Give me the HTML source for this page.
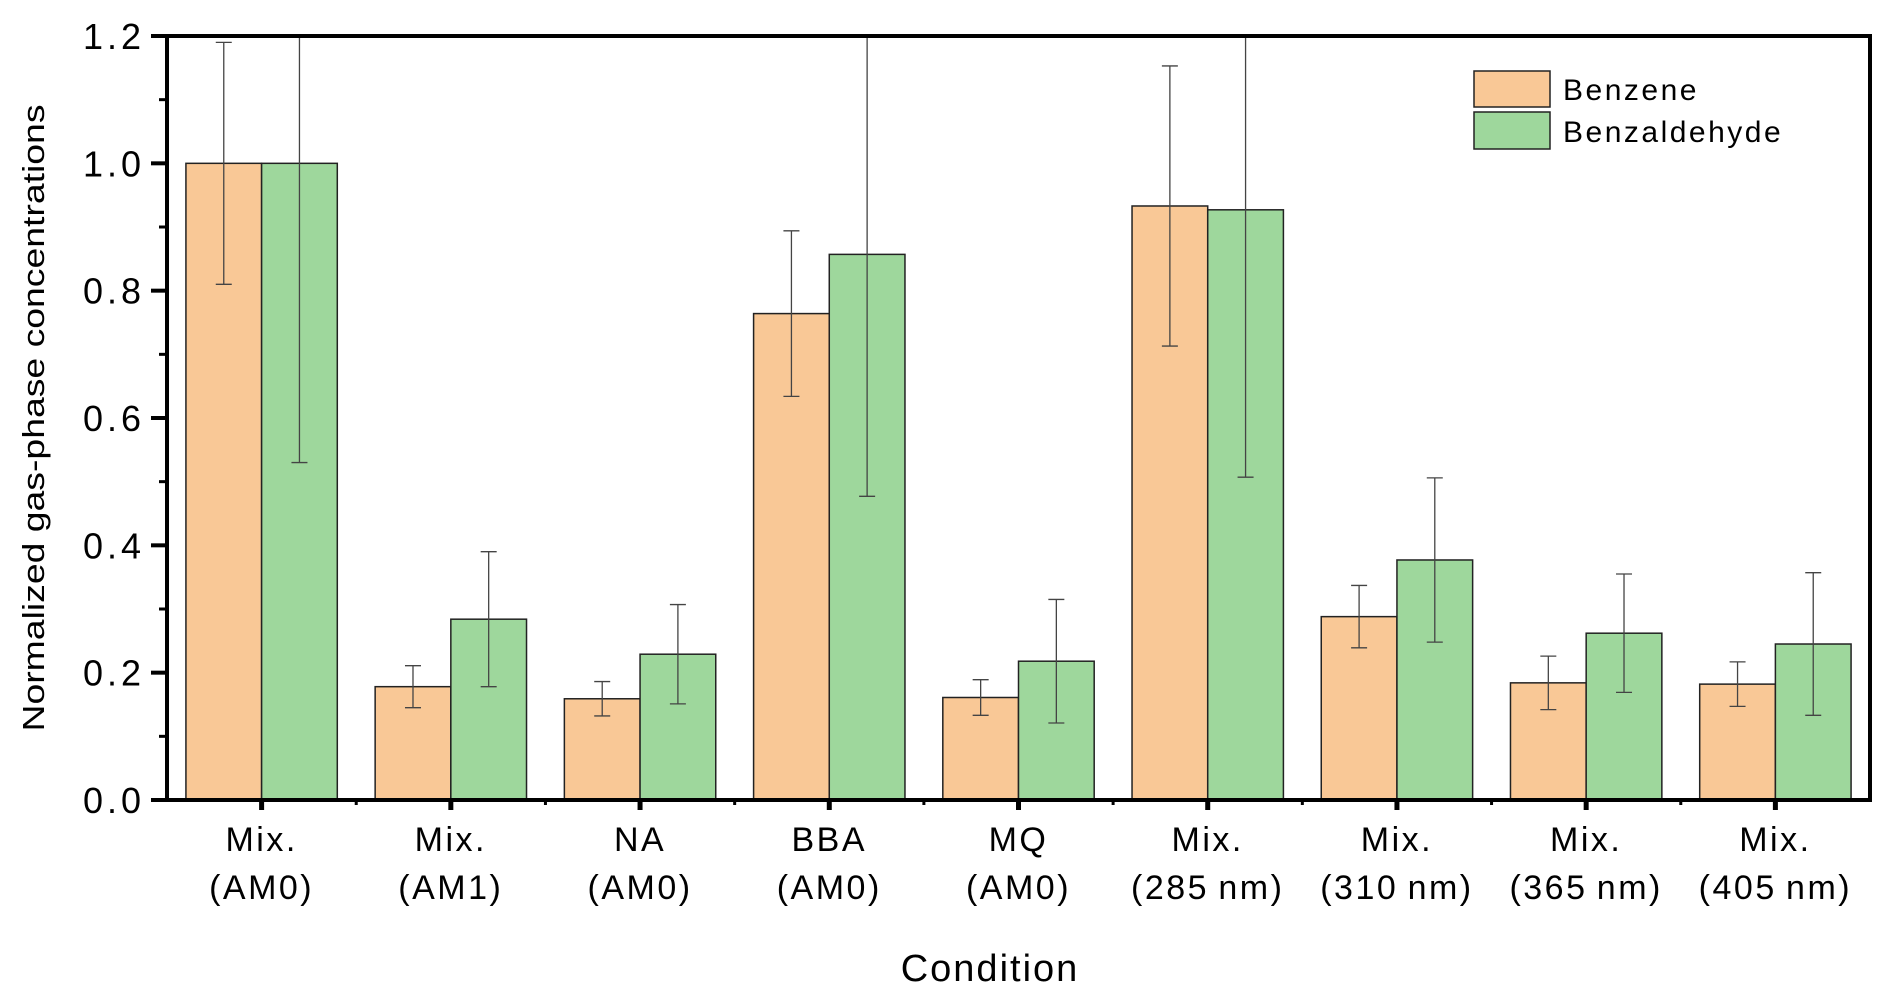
<!DOCTYPE html>
<html><head><meta charset="utf-8"><style>
html,body{margin:0;padding:0;background:#fff;}
svg{display:block;font-family:"Liberation Sans",sans-serif;}
</style></head><body>
<svg id="chart" width="1892" height="1004" viewBox="0 0 1892 1004" xmlns="http://www.w3.org/2000/svg">
<defs><clipPath id="pc"><rect x="167" y="36" width="1703" height="764"/></clipPath></defs>
<g id="marks" clip-path="url(#pc)"></g>
<g id="axes"></g>
<g>
<rect x="1474" y="71" width="76" height="36" fill="#f9c896" stroke="#222" stroke-width="1.5"/>
<text x="1563" y="100" font-size="30" letter-spacing="2.5">Benzene</text>
<rect x="1474" y="112" width="76" height="37" fill="#9ed79c" stroke="#222" stroke-width="1.5"/>
<text x="1563" y="142" font-size="30" letter-spacing="2.5">Benzaldehyde</text>
</g>
<text transform="translate(44,418) rotate(-90)" text-anchor="middle" font-size="31" textLength="627" lengthAdjust="spacingAndGlyphs">Normalized gas-phase concentrations</text>
<text x="990" y="981" text-anchor="middle" font-size="38" letter-spacing="2">Condition</text>
</svg>
<script>
const line1 = ["Mix.","Mix.","NA","BBA","MQ","Mix.","Mix.","Mix.","Mix."];
const line2 = ["(AM0)","(AM1)","(AM0)","(AM0)","(AM0)","(285\u2009nm)","(310\u2009nm)","(365\u2009nm)","(405\u2009nm)"];
const benzene = [1.0,0.178,0.159,0.764,0.161,0.933,0.288,0.184,0.182];
const benzeneErr = [0.19,0.033,0.027,0.13,0.028,0.22,0.049,0.042,0.035];
const benzaldehyde = [1.0,0.284,0.229,0.857,0.218,0.927,0.377,0.262,0.245];
const benzaldehydeErr = [0.47,0.106,0.078,0.38,0.097,0.42,0.129,0.093,0.112];
const yTicks = [0,0.2,0.4,0.6,0.8,1.0,1.2];
const yTickLabels = ["0.0","0.2","0.4","0.6","0.8","1.0","1.2"];

const NS="http://www.w3.org/2000/svg";
const L=167,R=1870,T=36,B=800,YMAX=1.2;
const n=line1.length, gw=(R-L)/n, bw=gw*0.4;
const y=v=>B-(v/YMAX)*(B-T);
const xc=i=>L+gw*(i+0.5);
function mk(tag,attrs,parent){const e=document.createElementNS(NS,tag);for(const k in attrs)e.setAttribute(k,attrs[k]);parent.appendChild(e);return e;}
const marks=document.getElementById('marks'), axes=document.getElementById('axes');
function bar(i,v,err,left,color,name){
  const x0=left?xc(i)-bw:xc(i);
  const r=mk('rect',{x:x0,y:y(v),width:bw,height:B-y(v),fill:color,stroke:'#222','stroke-width':1.5},marks);
  
  
  const cx=x0+bw/2;
  const g=mk('g',{stroke:'#444','stroke-width':1.3},marks);
  
  
  mk('line',{x1:cx,x2:cx,y1:y(v+err),y2:y(v-err)},g);
  mk('line',{x1:cx-8,x2:cx+8,y1:y(v+err),y2:y(v+err)},g);
  mk('line',{x1:cx-8,x2:cx+8,y1:y(v-err),y2:y(v-err)},g);
}
for(let i=0;i<n;i++){bar(i,benzene[i],benzeneErr[i],true,'#f9c896','benzene');bar(i,benzaldehyde[i],benzaldehydeErr[i],false,'#9ed79c','benzaldehyde');}
const fr=mk('rect',{x:L,y:T,width:R-L,height:B-T,fill:'none',stroke:'#000','stroke-width':4},axes);


yTicks.forEach((v,i)=>{
  mk('line',{x1:L-16,x2:L,y1:y(v),y2:y(v),stroke:'#000','stroke-width':4},axes);
  if(i<yTicks.length-1) mk('line',{x1:L-8,x2:L,y1:y(v+0.1),y2:y(v+0.1),stroke:'#000','stroke-width':3},axes);
  const t=mk('text',{x:L-22,y:y(v)+13,'text-anchor':'end','font-size':36,'letter-spacing':4},axes);
  
  
  t.textContent=yTickLabels[i];
});
for(let i=0;i<n;i++){
  mk('line',{x1:xc(i),x2:xc(i),y1:B,y2:B+10,stroke:'#000','stroke-width':5},axes);
  if(i<n-1) mk('line',{x1:L+gw*(i+1),x2:L+gw*(i+1),y1:B,y2:B+5,stroke:'#000','stroke-width':3},axes);
  const t1=mk('text',{x:xc(i),y:851,'text-anchor':'middle','font-size':34,'letter-spacing':2.5},axes);
  
  
  t1.textContent=line1[i];
  const t2=mk('text',{x:xc(i),y:899,'text-anchor':'middle','font-size':34,'letter-spacing':2.5},axes);
  
  
  t2.textContent=line2[i];
}
</script>
</body></html>
